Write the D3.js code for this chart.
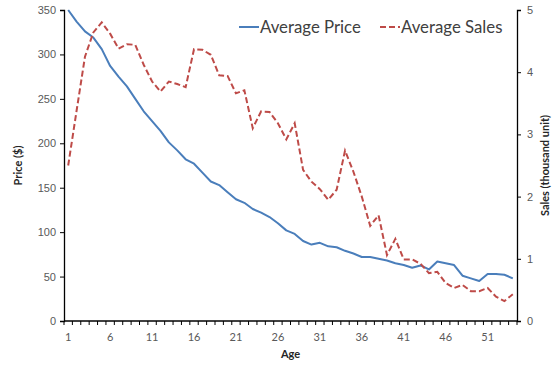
<!DOCTYPE html>
<html>
<head>
<meta charset="utf-8">
<script src="https://cdn.jsdelivr.net/npm/d3@7"></script>
<style>
  body { margin: 0; background: #fff; }
  svg { font-family: Lato, "Open Sans", sans-serif; }
</style>
</head>
<body>
<div id="chart"></div>
<script>
const ages = d3.range(1, 55);
const avgPrice = [350, 337, 326, 319, 306, 287, 275, 264, 250, 236,
  225, 214, 201, 192, 182, 177, 167, 157, 153, 145,
  137, 133, 126, 122, 117, 110, 102, 98, 90, 86,
  88, 84, 83, 79, 76, 72, 72, 70, 68, 65,
  63, 60, 62.5, 58, 67, 65, 63, 51, 48, 45,
  53, 53, 52, 48];
const avgSales = [2.5, 3.38, 4.25, 4.64, 4.8, 4.62, 4.38, 4.45, 4.44, 4.12,
  3.85, 3.69, 3.85, 3.81, 3.76, 4.37, 4.36, 4.28, 3.95, 3.94,
  3.66, 3.71, 3.1, 3.37, 3.36, 3.18, 2.92, 3.18, 2.43, 2.24,
  2.12, 1.95, 2.11, 2.74, 2.4, 2.0, 1.53, 1.7, 1.06, 1.32,
  0.99, 0.99, 0.92, 0.77, 0.79, 0.61, 0.53, 0.58, 0.48, 0.48,
  0.53, 0.39, 0.32, 0.43];
const priceTicks = [0, 50, 100, 150, 200, 250, 300, 350];
const salesTicks = [0, 1, 2, 3, 4, 5];
const ageLabels = [1, 6, 11, 16, 21, 26, 31, 36, 41, 46, 51];

const width = 558, height = 365;
const margin = { top: 10, right: 41, bottom: 44, left: 64 };
const grey = "#595959";

const svg = d3.select("#chart").append("svg")
  .attr("width", width)
  .attr("height", height);

const x = d3.scaleBand()
  .domain(ages)
  .range([margin.left, width - margin.right])
  .padding(0);

const y = d3.scaleLinear()
  .domain([0, 350])
  .range([height - margin.bottom, margin.top]);

const y2 = d3.scaleLinear()
  .domain([0, 5])
  .range([height - margin.bottom, margin.top]);

const cx = d => x(d) + x.bandwidth() / 2;

// left axis
svg.append("g")
  .attr("transform", `translate(${margin.left},0)`)
  .call(d3.axisLeft(y).tickValues(priceTicks).tickSize(4).tickPadding(4))
  .call(g => g.select(".domain").attr("stroke", "#000").attr("stroke-width", 1.3))
  .call(g => g.selectAll(".tick line").attr("stroke", "#000"))
  .call(g => g.selectAll(".tick text").attr("fill", grey).attr("font-size", 11));

// right axis
svg.append("g")
  .attr("transform", `translate(${width - margin.right},0)`)
  .call(d3.axisRight(y2).tickValues(salesTicks).tickFormat(d3.format("d")).tickSize(4).tickPadding(6))
  .call(g => g.select(".domain").attr("stroke", "#000").attr("stroke-width", 1.3))
  .call(g => g.selectAll(".tick line").attr("stroke", "#000"))
  .call(g => g.selectAll(".tick text").attr("fill", grey).attr("font-size", 11));

// bottom axis: labels centred, ticks between categories
const xb = svg.append("g")
  .attr("transform", `translate(0,${height - margin.bottom})`);
xb.append("line")
  .attr("x1", margin.left).attr("x2", width - margin.right)
  .attr("stroke", "#000").attr("stroke-width", 1.3);
xb.selectAll("line.tk")
  .data(ages.concat([null]))
  .join("line")
    .attr("class", "tk")
    .attr("x1", d => d === null ? x.range()[1] : x(d))
    .attr("x2", d => d === null ? x.range()[1] : x(d))
    .attr("y1", 0).attr("y2", 4)
    .attr("stroke", "#000");
xb.selectAll("text")
  .data(ageLabels)
  .join("text")
    .attr("x", cx)
    .attr("y", 20)
    .attr("text-anchor", "middle")
    .attr("fill", grey)
    .attr("font-size", 11)
    .text(d => d);

// lines
const priceLine = d3.line().x((d, i) => cx(ages[i])).y(d => y(d));
const salesLine = d3.line().x((d, i) => cx(ages[i])).y(d => y2(d));

svg.append("path")
  .datum(avgPrice)
  .attr("fill", "none")
  .attr("stroke", "#4a7ebb")
  .attr("stroke-width", 2)
  .attr("stroke-linejoin", "round")
  .attr("d", priceLine);

svg.append("path")
  .datum(avgSales)
  .attr("fill", "none")
  .attr("stroke", "#be4b48")
  .attr("stroke-width", 2)
  .attr("stroke-dasharray", "6,3")
  .attr("d", salesLine);

// axis titles
svg.append("text")
  .attr("transform", `translate(22,${(margin.top + height - margin.bottom) / 2}) rotate(-90)`)
  .attr("text-anchor", "middle")
  .attr("font-size", 11)
  .attr("font-weight", "bold")
  .attr("fill", "#262626")
  .text("Price ($)");

svg.append("text")
  .attr("transform", `translate(549,${(margin.top + height - margin.bottom) / 2}) rotate(-90)`)
  .attr("text-anchor", "middle")
  .attr("font-size", 11)
  .attr("font-weight", "bold")
  .attr("fill", "#262626")
  .text("Sales (thousand unit)");

svg.append("text")
  .attr("x", (margin.left + width - margin.right) / 2)
  .attr("y", 358)
  .attr("text-anchor", "middle")
  .attr("font-size", 11)
  .attr("font-weight", "bold")
  .attr("fill", "#262626")
  .text("Age");

// legend
const legend = [
  { name: "Average Price", color: "#4a7ebb", dash: null, x: 239 },
  { name: "Average Sales", color: "#be4b48", dash: "6,3", x: 380 }
];
const lg = svg.append("g").selectAll("g")
  .data(legend)
  .join("g")
    .attr("transform", d => `translate(${d.x},27)`);
lg.append("line")
  .attr("x1", 0).attr("x2", 20)
  .attr("stroke", d => d.color)
  .attr("stroke-width", 2)
  .attr("stroke-dasharray", d => d.dash);
lg.append("text")
  .attr("x", 21)
  .attr("dy", "0.35em")
  .attr("font-size", 16.8)
  .attr("fill", "#404040")
  .text(d => d.name);
</script>
</body>
</html>
